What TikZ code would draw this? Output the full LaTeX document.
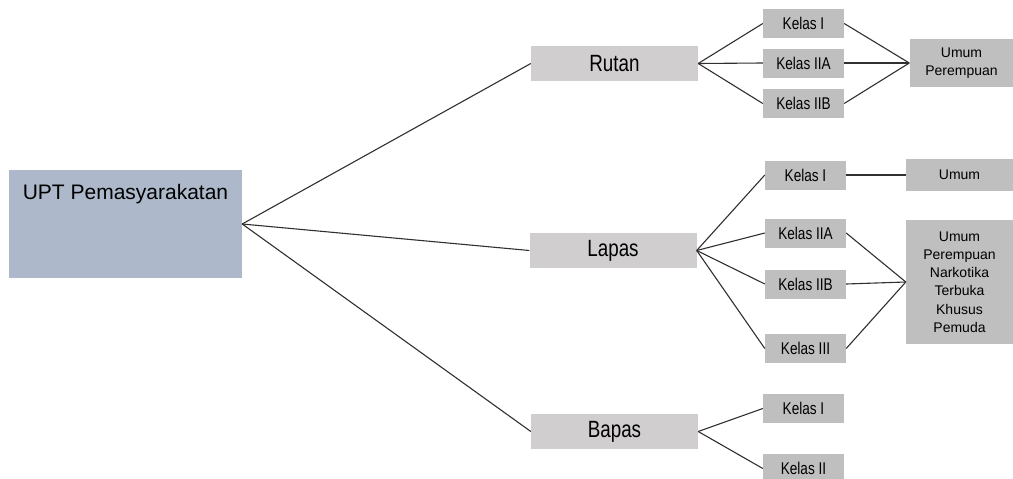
\documentclass[tikz,border=0pt]{standalone}
\usepackage{fontspec}
\setmainfont{Liberation Sans}
\newfontfamily\narrowfont{Liberation Sans}[FakeStretch=0.8]
\definecolor{uptfill}{HTML}{ADB9CA}
\definecolor{midfill}{HTML}{D0CECE}
\definecolor{leaffill}{HTML}{BFBFBF}
\definecolor{linecol}{HTML}{303030}
\begin{document}
\begin{tikzpicture}[x=1pt,y=-1pt,
  uptbox/.style={rectangle,fill=uptfill,minimum width=233pt,minimum height=108pt,inner sep=0pt},
  midbox/.style={rectangle,fill=midfill,minimum width=167pt,minimum height=35pt,inner sep=0pt,
    font=\narrowfont\fontsize{23.5}{26}\selectfont},
  kelasbox/.style={rectangle,fill=leaffill,minimum width=81pt,minimum height=29pt,inner sep=0pt,
    font=\narrowfont\fontsize{17}{19}\selectfont},
  typebox/.style={rectangle,fill=leaffill,minimum width=104pt,inner sep=0pt,align=center,
    font=\fontsize{14}{18.3}\selectfont},
  conn/.style={draw=linecol,line width=1.1pt}]
\useasboundingbox (0,0) rectangle (1013,479);
% root
\node[uptbox] (upt) at (125.5,224) {};
\node[font=\fontsize{21}{24}\selectfont,anchor=base] (upttext) at (125.5,199) {UPT Pemasyarakatan};
% level 1
\node[midbox] (rutan) at (614.5,63.5) {Rutan};
\node[midbox] (lapas) at (613,250.5) {Lapas};
\node[midbox] (bapas) at (614.5,431.5) {Bapas};
% rutan children
\node[kelasbox] (rk1) at (803.5,23.5) {Kelas I};
\node[kelasbox] (rk2a) at (803.5,63) {Kelas IIA};
\node[kelasbox] (rk2b) at (803.5,103.5) {Kelas IIB};
\node[typebox,minimum height=48pt] (rtype) at (961.5,63) {Umum\\Perempuan};
% lapas children
\node[kelasbox] (lk1) at (805.5,175) {Kelas I};
\node[kelasbox] (lk2a) at (805.5,233) {Kelas IIA};
\node[kelasbox] (lk2b) at (805.5,284) {Kelas IIB};
\node[kelasbox] (lk3) at (805.5,348.5) {Kelas III};
\node[typebox,minimum width=107pt,minimum height=32pt] (ltype1) at (959.5,175) {Umum};
\node[typebox,minimum width=107pt,minimum height=124pt] (ltype2) at (959.5,282) {Umum\\Perempuan\\Narkotika\\Terbuka\\Khusus\\Pemuda};
% bapas children
\node[kelasbox] (bk1) at (803.5,408.5) {Kelas I};
\node[kelasbox] (bk2) at (803.5,468.5) {Kelas II};
% connectors
\draw[conn] (upt.east) -- (rutan.west);
\draw[conn] (upt.east) -- (lapas.west);
\draw[conn] (upt.east) -- (bapas.west);
\foreach \k in {rk1,rk2a,rk2b}{
  \draw[conn] (rutan.east) -- (\k.west);
  \draw[conn] (\k.east) -- (rtype.west);
}
\foreach \k in {lk1,lk2a,lk2b,lk3}{
  \draw[conn] (lapas.east) -- (\k.west);
}
\draw[conn] (lk1.east) -- (ltype1.west);
\foreach \k in {lk2a,lk2b,lk3}{
  \draw[conn] (\k.east) -- (ltype2.west);
}
\draw[conn] (bapas.east) -- (bk1.west);
\draw[conn] (bapas.east) -- (bk2.west);
\end{tikzpicture}
\end{document}
